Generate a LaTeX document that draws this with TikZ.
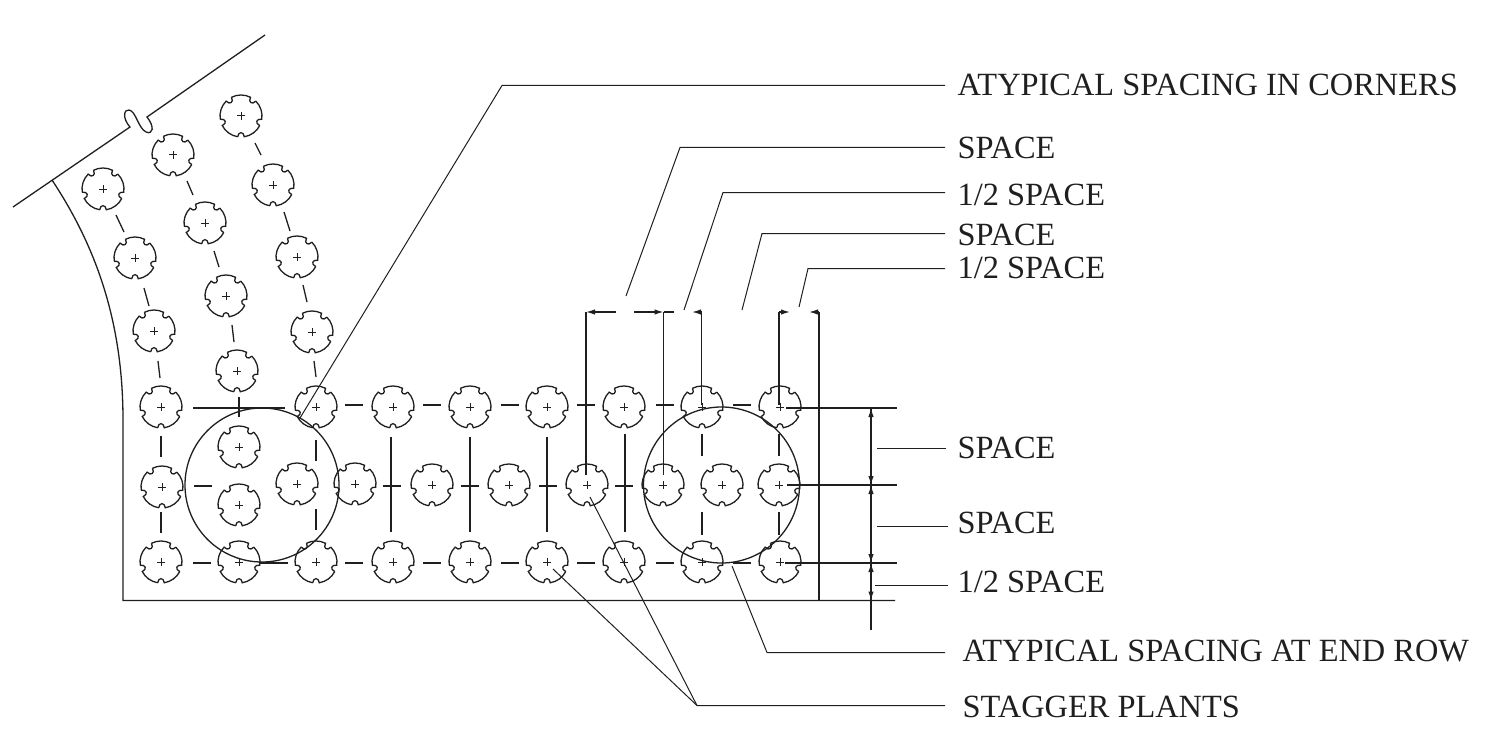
\documentclass[tikz,border=0pt]{standalone}
\usepackage{fontspec}
\setmainfont{Liberation Serif}
\usetikzlibrary{arrows.meta}
\definecolor{ink}{gray}{0.12}
\tikzset{
  x=1pt,y=-1pt,
  every path/.style={draw=ink,line width=1.3pt},
  thin line/.style={line width=1.0pt},
  heavy/.style={line width=1.8pt},
  lab/.style={draw=none,anchor=base west,inner sep=0pt,font=\fontsize{32.4}{32.4}\selectfont,text=ink},
  dimtip/.style={-{Latex[length=9pt,width=5.5pt]}},
  plant/.pic={
    \draw[line width=1.3pt]
      \foreach \a in {90,162,234,306,378}{
        (\a+9:21) arc[start angle=\a+9,end angle=\a+63,radius=21]
        .. controls (\a+62:15.5) and (\a+82:15.5) .. (\a+81:21)
      };
    \draw[line width=1pt] (-3.6,0)--(3.6,0) (0,-3.6)--(0,3.6);
  }
}
\begin{document}
\begin{tikzpicture}
\useasboundingbox[draw=none] (0,0) rectangle (1494,741);
% plants
\foreach \p/\x/\y in {a1/241/116,a2/173/155,a3/103/189,a4/273/185,a5/205/223,a6/135/258,a7/297/257,a8/226/296,a9/154/331,a10/237/371,a11/312/332,
 r1/161/407,r2/316/407,r3/393/407,r4/470/407,r5/547/407,r6/624/407,r7/702/407,r8/780/407,
 m1/162/487,m2/239/447,m3/239/505,m4/297/484,m5/355/484,m6/432/485,m7/509/485,m8/587/485,m9/663/485,m10/722/485,m11/779/485,
 b1/161/562,b2/239/562,b3/316/562,b4/393/562,b5/470/562,b6/547/562,b7/624/562,b8/702/562,b9/780/562}
  {\pic (\p) at (\x,\y) {plant};}
% boundary
\draw (13,207)--(130,127) .. controls (122,118) and (124,109) .. (129,110)
  .. controls (136,111) and (138,128) .. (146,132) .. controls (153,135) and (155,127) .. (147,117)--(265,35);
\draw (52,180) .. controls (95,245) and (123,320) .. (123,420) -- (123,600.5) -- (895,600.5);
\draw (819,312)--(819,600.5);
% oblique dashes
\draw (255,143)--(261,155) (187,181)--(193,195) (116,215)--(124,232) (284,212)--(290,231)
      (214,251)--(219,267) (144,288)--(149,306) (303,285)--(307,302);
\draw (158,361)--(160,378) (232,325)--(234,342) (314,361)--(316,377);
% row dashes
\foreach \x in {345,423,501,577,656,733} \draw (\x,405)--(\x+18,405);
\foreach \x in {194,383,461,539,615} \draw (\x,486)--(\x+18,486);
\foreach \x in {193,345,423,501,577,656,733} \draw (\x,563)--(\x+18,563);
\draw (260,563)--(288,563);
\draw[heavy] (193,408)--(285,408);
\draw[heavy] (239,397)--(239,417);
% verticals
\draw (161,436)--(161,457) (161,512)--(161,533) (316,440)--(316,461) (316,509)--(316,530)
      (702,434)--(702,456) (702,512)--(702,535) (779,434)--(779,456) (779,512)--(779,535);
\draw[heavy] (391,437)--(391,532);
\draw (470,437)--(470,532) (547,437)--(547,532) (625,434)--(625,532);
% big circles
\draw (262,485) circle[radius=77];
\draw (721.5,485) circle[radius=78];
% dimension top
\draw (586,312)--(586,475) (663.5,312)--(663.5,475) (701.5,312)--(701.5,405);
\draw[heavy] (779,312)--(779,405);
\draw[dimtip] (616,312)--(586,312);
\draw[dimtip] (634,312)--(663.5,312);
\draw (663.5,312)--(674,312);
\draw[dimtip] (701.5,312)--(692,312);
\draw[dimtip] (779,312)--(790,312);
\draw[dimtip] (819,312)--(809,312);
% dimension right
\draw[heavy] (786,408)--(897,408);
\draw[heavy] (787,485)--(897,485);
\draw[heavy] (785,563)--(897,563);
\draw (871,408)--(871,630);
\foreach \t/\d in {408/9,485/-9,485/9,563/-9,563/9,600.5/-9}
  \draw[dimtip] (871,\t+\d)--(871,\t);
% labels
\node[lab] (t1) at (957,96) {ATYPICAL SPACING IN CORNERS};
\node[lab] (t2) at (957,158) {SPACE};
\node[lab] (t3) at (957,205) {1/2 SPACE};
\node[lab] (t4) at (957,245) {SPACE};
\node[lab] (t5) at (957,278) {1/2 SPACE};
\node[lab] (t6) at (957,458) {SPACE};
\node[lab] (t7) at (957,533) {SPACE};
\node[lab] (t8) at (957,592) {1/2 SPACE};
\node[lab] (t9) at (962,661) {ATYPICAL SPACING AT END ROW};
\node[lab] (t10) at (962,717) {STAGGER PLANTS};
% leaders
\draw[thin line] (300,418)--(502,85.5)--(945,85.5);
\draw[thin line] (626,296)--(680,147.5)--(945,147.5);
\draw[thin line] (684,310)--(723,192.5)--(945,192.5);
\draw[thin line] (742,310)--(762,233.5)--(945,233.5);
\draw[thin line] (799,307)--(808,268.5)--(945,268.5);
\draw[thin line] (877,448.5)--(946,448.5);
\draw[thin line] (877,526.5)--(948,526.5);
\draw[thin line] (875,585.5)--(948,585.5);
\draw[thin line] (732,566)--(767,652.5)--(945,652.5);
\draw[thin line] (590,497)--(697,705.5)--(945,705.5);
\draw[thin line] (553,569)--(697,705.5);
\end{tikzpicture}
\end{document}
